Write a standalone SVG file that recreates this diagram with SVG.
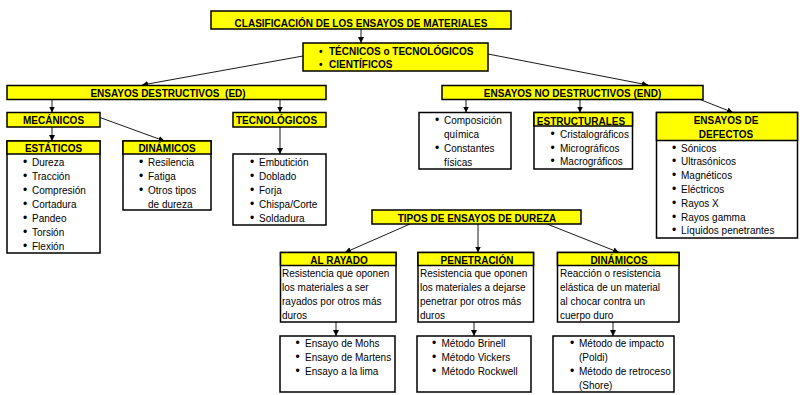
<svg xmlns="http://www.w3.org/2000/svg" width="800" height="395" viewBox="0 0 800 395">
<style>
.box{fill:#fff;stroke:#000;stroke-width:1.5}
.hdr{fill:#ffff00;stroke:#000;stroke-width:1.5}
.b{font-family:"Liberation Sans",Arial,sans-serif;font-size:10px;font-weight:bold;text-anchor:middle;fill:#000}
.bl{font-family:"Liberation Sans",Arial,sans-serif;font-size:10px;font-weight:bold;fill:#000}
.t{font-family:"Liberation Sans",Arial,sans-serif;font-size:10px;fill:#000}
.t tspan:first-child:not(:only-child){font-size:12px}
#connectors line{stroke:#1a1a1a;stroke-width:1;marker-end:url(#ah)}
</style>
<defs>
<marker id="ah" markerUnits="userSpaceOnUse" markerWidth="7" markerHeight="7" refX="6" refY="3" orient="auto">
<path d="M0,0 L6,3 L0,6 z" fill="#000"/>
</marker>
</defs>
<rect width="800" height="395" fill="#fff"/>

<g id="connectors">
<line x1="361" y1="29" x2="361" y2="43"/>
<line x1="303" y1="56" x2="142" y2="85"/>
<line x1="488" y1="54" x2="648" y2="85"/>
<line x1="52" y1="99" x2="52" y2="112.5"/>
<line x1="280" y1="99" x2="280" y2="112.5"/>
<line x1="52" y1="127" x2="52" y2="141"/>
<line x1="100" y1="117.5" x2="164.5" y2="141"/>
<line x1="280" y1="127" x2="280" y2="154"/>
<line x1="466" y1="99" x2="466" y2="112.5"/>
<line x1="580" y1="99" x2="580" y2="112.5"/>
<line x1="700" y1="99.5" x2="733" y2="112.5"/>
<line x1="410" y1="224" x2="345" y2="252.5"/>
<line x1="478" y1="224" x2="478" y2="252.5"/>
<line x1="547" y1="224" x2="619" y2="252.5"/>
<line x1="336" y1="322" x2="336" y2="336"/>
<line x1="474" y1="322" x2="474" y2="336"/>
<line x1="613" y1="322" x2="613" y2="336"/>
</g>

<g id="titulo">
<rect class="hdr" x="211" y="11" width="300" height="18"/>
<text class="b" x="361" y="27">CLASIFICACIÓN DE LOS ENSAYOS DE MATERIALES</text>
</g>

<g id="tecnicos">
<rect class="hdr" x="303" y="43" width="185" height="28"/>
<text class="bl" y="55"><tspan x="319">•</tspan><tspan x="329">TÉCNICOS o TECNOLÓGICOS</tspan></text>
<text class="bl" y="68"><tspan x="319">•</tspan><tspan x="329">CIENTÍFICOS</tspan></text>
</g>

<g id="ed">
<rect class="hdr" x="7" y="85.5" width="319" height="14"/>
<text class="b" x="168" y="96.5" xml:space="preserve">ENSAYOS DESTRUCTIVOS  (ED)</text>
</g>

<g id="end">
<rect class="hdr" x="442" y="85.5" width="261" height="14"/>
<text class="b" x="572.5" y="96.5">ENSAYOS NO DESTRUCTIVOS (END)</text>
</g>

<g id="mecanicos">
<rect class="hdr" x="7" y="112.5" width="93" height="14.5"/>
<text class="b" x="53.5" y="124">MECÁNICOS</text>
</g>

<g id="tecnologicos">
<rect class="hdr" x="233" y="112.5" width="93" height="14.5"/>
<text class="b" x="276.5" y="124">TECNOLÓGICOS</text>
</g>

<g id="estaticos">
<rect class="box" x="7" y="141" width="93" height="112"/>
<rect class="hdr" x="7" y="141" width="93" height="13"/>
<text class="b" x="53.5" y="152">ESTÁTICOS</text>
<text class="t" y="166"><tspan x="23">•</tspan><tspan x="32">Dureza</tspan></text>
<text class="t" y="180"><tspan x="23">•</tspan><tspan x="32">Tracción</tspan></text>
<text class="t" y="194"><tspan x="23">•</tspan><tspan x="32">Compresión</tspan></text>
<text class="t" y="208"><tspan x="23">•</tspan><tspan x="32">Cortadura</tspan></text>
<text class="t" y="222"><tspan x="23">•</tspan><tspan x="32">Pandeo</tspan></text>
<text class="t" y="236"><tspan x="23">•</tspan><tspan x="32">Torsión</tspan></text>
<text class="t" y="250"><tspan x="23">•</tspan><tspan x="32">Flexión</tspan></text>
</g>

<g id="dinamicos">
<rect class="box" x="123" y="141" width="88" height="69"/>
<rect class="hdr" x="123" y="141" width="88" height="13"/>
<text class="b" x="167" y="152">DINÁMICOS</text>
<text class="t" y="166"><tspan x="139">•</tspan><tspan x="148">Resilencia</tspan></text>
<text class="t" y="180"><tspan x="139">•</tspan><tspan x="148">Fatiga</tspan></text>
<text class="t" y="194"><tspan x="139">•</tspan><tspan x="148">Otros tipos</tspan></text>
<text class="t" x="148" y="208">de dureza</text>
</g>

<g id="tecnologicos-lista">
<rect class="box" x="233" y="154" width="93" height="71"/>
<text class="t" y="166"><tspan x="250">•</tspan><tspan x="259">Embutición</tspan></text>
<text class="t" y="180"><tspan x="250">•</tspan><tspan x="259">Doblado</tspan></text>
<text class="t" y="194"><tspan x="250">•</tspan><tspan x="259">Forja</tspan></text>
<text class="t" y="208"><tspan x="250">•</tspan><tspan x="259">Chispa/Corte</tspan></text>
<text class="t" y="222"><tspan x="250">•</tspan><tspan x="259">Soldadura</tspan></text>
</g>

<g id="composicion">
<rect class="box" x="419" y="112.5" width="92" height="56.5"/>
<text class="t" y="124"><tspan x="435">•</tspan><tspan x="444">Composición</tspan></text>
<text class="t" x="444" y="138">química</text>
<text class="t" y="152"><tspan x="435">•</tspan><tspan x="444">Constantes</tspan></text>
<text class="t" x="444" y="165.5">físicas</text>
</g>

<g id="estructurales">
<rect class="box" x="534" y="112.5" width="98.5" height="56.5"/>
<rect class="hdr" x="534" y="112.5" width="98.5" height="13.5"/>
<text class="b" x="581" y="124.5">ESTRUCTURALES</text>
<text class="t" y="137.5"><tspan x="550.5">•</tspan><tspan x="560">Cristalográficos</tspan></text>
<text class="t" y="151.5"><tspan x="550.5">•</tspan><tspan x="560">Micrográficos</tspan></text>
<text class="t" y="165"><tspan x="550.5">•</tspan><tspan x="560">Macrográficos</tspan></text>
</g>

<g id="defectos">
<rect class="box" x="656.5" y="112.5" width="141" height="125.5"/>
<rect class="hdr" x="656.5" y="112.5" width="141" height="28"/>
<text class="b" x="726" y="124">ENSAYOS DE</text>
<text class="b" x="726" y="137.5">DEFECTOS</text>
<text class="t" y="151.5"><tspan x="672">•</tspan><tspan x="681">Sónicos</tspan></text>
<text class="t" y="165.3"><tspan x="672">•</tspan><tspan x="681">Ultrasónicos</tspan></text>
<text class="t" y="179.1"><tspan x="672">•</tspan><tspan x="681">Magnéticos</tspan></text>
<text class="t" y="192.9"><tspan x="672">•</tspan><tspan x="681">Eléctricos</tspan></text>
<text class="t" y="206.7"><tspan x="672">•</tspan><tspan x="681">Rayos X</tspan></text>
<text class="t" y="220.5"><tspan x="672">•</tspan><tspan x="681">Rayos gamma</tspan></text>
<text class="t" y="234.3"><tspan x="672">•</tspan><tspan x="681">Líquidos penetrantes</tspan></text>
</g>

<g id="tipos-dureza">
<rect class="hdr" x="372" y="210" width="209" height="14"/>
<text class="b" x="477" y="221.5">TIPOS DE ENSAYOS DE DUREZA</text>
</g>

<g id="al-rayado">
<rect class="box" x="280.5" y="252.5" width="115.5" height="69.5"/>
<rect class="hdr" x="280.5" y="252.5" width="115.5" height="13"/>
<text class="b" x="339" y="264">AL RAYADO</text>
<text class="t" x="282" y="277">Resistencia que oponen</text>
<text class="t" x="282" y="291">los materiales a ser</text>
<text class="t" x="282" y="305">rayados por otros más</text>
<text class="t" x="282" y="319">duros</text>
</g>

<g id="penetracion">
<rect class="box" x="418" y="252.5" width="115.5" height="69.5"/>
<rect class="hdr" x="418" y="252.5" width="115.5" height="13"/>
<text class="b" x="477" y="264">PENETRACIÓN</text>
<text class="t" x="420" y="277">Resistencia que oponen</text>
<text class="t" x="420" y="291">los materiales a dejarse</text>
<text class="t" x="420" y="305">penetrar por otros más</text>
<text class="t" x="420" y="319">duros</text>
</g>

<g id="dinamicos-dureza">
<rect class="box" x="557.5" y="252.5" width="121.5" height="69.5"/>
<rect class="hdr" x="557.5" y="252.5" width="121.5" height="13"/>
<text class="b" x="619" y="264">DINÁMICOS</text>
<text class="t" x="560" y="277">Reacción o resistencia</text>
<text class="t" x="560" y="291">elástica de un material</text>
<text class="t" x="560" y="305">al chocar contra un</text>
<text class="t" x="560" y="319">cuerpo duro</text>
</g>

<g id="rayado-lista">
<rect class="box" x="280" y="336" width="115" height="56"/>
<text class="t" y="347"><tspan x="295.5">•</tspan><tspan x="305">Ensayo de Mohs</tspan></text>
<text class="t" y="361"><tspan x="295.5">•</tspan><tspan x="305">Ensayo de Martens</tspan></text>
<text class="t" y="375"><tspan x="295.5">•</tspan><tspan x="305">Ensayo a la lima</tspan></text>
</g>

<g id="penetracion-lista">
<rect class="box" x="417" y="336" width="114" height="56"/>
<text class="t" y="347"><tspan x="432">•</tspan><tspan x="441.5">Método Brinell</tspan></text>
<text class="t" y="361"><tspan x="432">•</tspan><tspan x="441.5">Método Vickers</tspan></text>
<text class="t" y="375"><tspan x="432">•</tspan><tspan x="441.5">Método Rockwell</tspan></text>
</g>

<g id="dinamicos-lista">
<rect class="box" x="553" y="336" width="121" height="56"/>
<text class="t" y="347"><tspan x="570">•</tspan><tspan x="579">Método de impacto</tspan></text>
<text class="t" x="579" y="361">(Poldi)</text>
<text class="t" y="375"><tspan x="570">•</tspan><tspan x="579">Método de retroceso</tspan></text>
<text class="t" x="579" y="389">(Shore)</text>
</g>
</svg>
